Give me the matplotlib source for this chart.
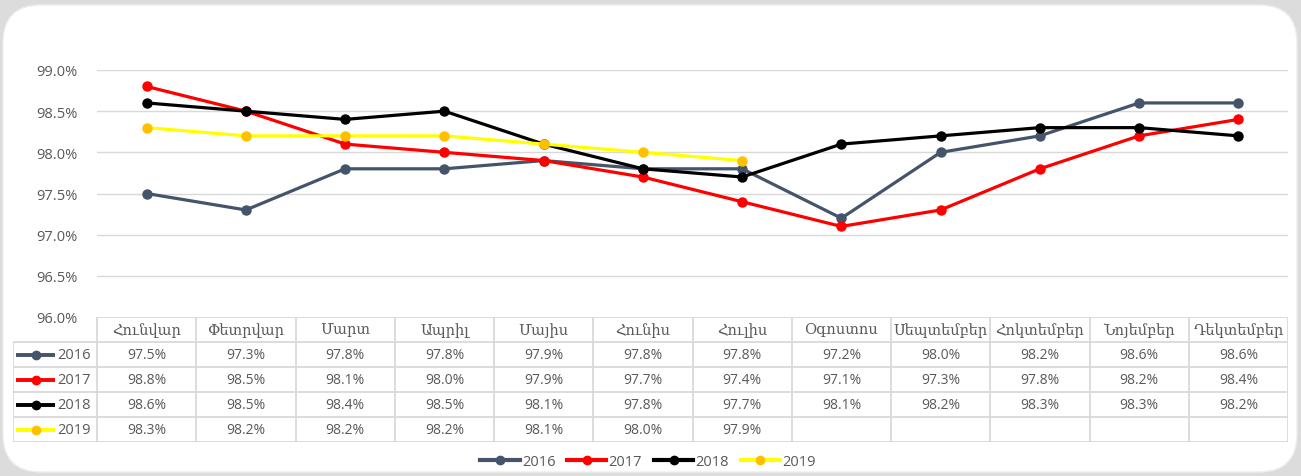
import matplotlib
matplotlib.use('Agg')
import matplotlib.pyplot as plt
from matplotlib.patches import FancyBboxPatch
from matplotlib.lines import Line2D

# Data
months = ['Հունվար', 'Փետրվար', 'Մարտ', 'Ապրիլ', 'Մայիս', 'Հունիս', 'Հուլիս',
          'Օգոստոս', 'Սեպտեմբեր', 'Հոկտեմբեր', 'Նոյեմբեր', 'Դեկտեմբեր']
years = ['2016', '2017', '2018', '2019']
v2016 = [97.5, 97.3, 97.8, 97.8, 97.9, 97.8, 97.8, 97.2, 98.0, 98.2, 98.6, 98.6]
v2017 = [98.8, 98.5, 98.1, 98.0, 97.9, 97.7, 97.4, 97.1, 97.3, 97.8, 98.2, 98.4]
v2018 = [98.6, 98.5, 98.4, 98.5, 98.1, 97.8, 97.7, 98.1, 98.2, 98.3, 98.3, 98.2]
v2019 = [98.3, 98.2, 98.2, 98.2, 98.1, 98.0, 97.9]
series = [v2016, v2017, v2018, v2019]
colors = ['#44546A', '#FF0000', '#000000', '#FFFF00']
mcolors = ['#44546A', '#FF0000', '#000000', '#FFC000']
yticks = [96.0, 96.5, 97.0, 97.5, 98.0, 98.5, 99.0]

W, H = 1301, 477
txt = '#595959'
grid = '#D9D9D9'
fig = plt.figure(figsize=(W / 100, H / 100), dpi=100)
fig.patch.set_facecolor('#DCDCDC')

# background panel
bg = fig.add_axes([0, 0, 1, 1], zorder=-5)
bg.set_xlim(0, W)
bg.set_ylim(H, 0)
bg.axis('off')
bg.add_patch(FancyBboxPatch((3, 6), 1294, 467, boxstyle='round,pad=0,rounding_size=38',
                            fc='white', ec='#EEEEEE', lw=1))

def fx(px):
    return px / W

def fy(py):
    return 1 - py / H

# main chart
ax = fig.add_axes([fx(97), fy(318), fx(1288) - fx(97), fy(71) - fy(318)])
ax.set_xlim(-0.5, 11.5)
ax.set_ylim(96.0, 99.0)
ax.set_yticks(yticks)
ax.set_yticklabels(['%.1f%%' % t for t in yticks], color=txt, fontsize=10.5, family='Open Sans')
ax.tick_params(axis='y', length=0, pad=14)
ax.set_xticks([])
for s in ax.spines.values():
    s.set_visible(False)
ax.set_facecolor('none')
for t in yticks[1:]:
    ax.axhline(t, color=grid, lw=1, zorder=0)

for i, vals in enumerate(series):
    ax.plot(range(len(vals)), vals, color=colors[i], lw=2.3, marker='o', ms=6.5,
            mfc=mcolors[i], mec=mcolors[i], zorder=3, label=years[i])

# data table
cw = 99.25  # pixels per column
left = -0.5 - 84 / cw
tb = fig.add_axes([fx(13), fy(443), fx(1288) - fx(13), fy(318) - fy(443)])
tb.set_xlim(left, 11.5)
tb.set_ylim(5, 0)
tb.axis('off')
tb.patch.set_alpha(0)
lc = '#D9D9D9'
tb.plot([-0.5, 11.5], [0, 0], color=lc, lw=1.3)
for r in range(1, 6):
    tb.plot([left, 11.5], [r, r], color=lc, lw=1.3)
tb.plot([left, left], [1, 5], color=lc, lw=1.3)
for c in range(13):
    tb.plot([c - 0.5, c - 0.5], [0, 5], color=lc, lw=1.3)

for c, m in enumerate(months):
    tb.text(c, 0.5, m, ha='center', va='center', color=txt, fontsize=10.5, family='DejaVu Serif')
for r, vals in enumerate(series):
    y = r + 1.5
    x0, x1 = left + 3 / cw, left + 42 / cw
    tb.plot([x0, x1], [y, y], color=colors[r], lw=2.8, solid_capstyle='butt')
    tb.plot([(x0 + x1) / 2], [y], 'o', ms=6, color=mcolors[r])
    tb.text(left + 44 / cw, y, years[r], ha='left', va='center', color=txt, fontsize=10.5,
            family='Open Sans')
    for c, v in enumerate(vals):
        tb.text(c, y, '%.1f%%' % v, ha='center', va='center', color=txt, fontsize=10,
                family='Open Sans')

# legend
handles = [Line2D([], [], color=colors[i], lw=3, marker='o', ms=6,
                  mfc=mcolors[i], mec=mcolors[i]) for i in range(4)]
fig.legend(handles, years, loc='center', bbox_to_anchor=(fx(648), fy(463)), ncol=4,
           frameon=False, handlelength=2.7, handletextpad=0.15, columnspacing=0.8,
           prop={'family': 'Open Sans', 'size': 10.5}, labelcolor=txt)

fig.savefig('out.png', dpi=100, facecolor=fig.get_facecolor())
